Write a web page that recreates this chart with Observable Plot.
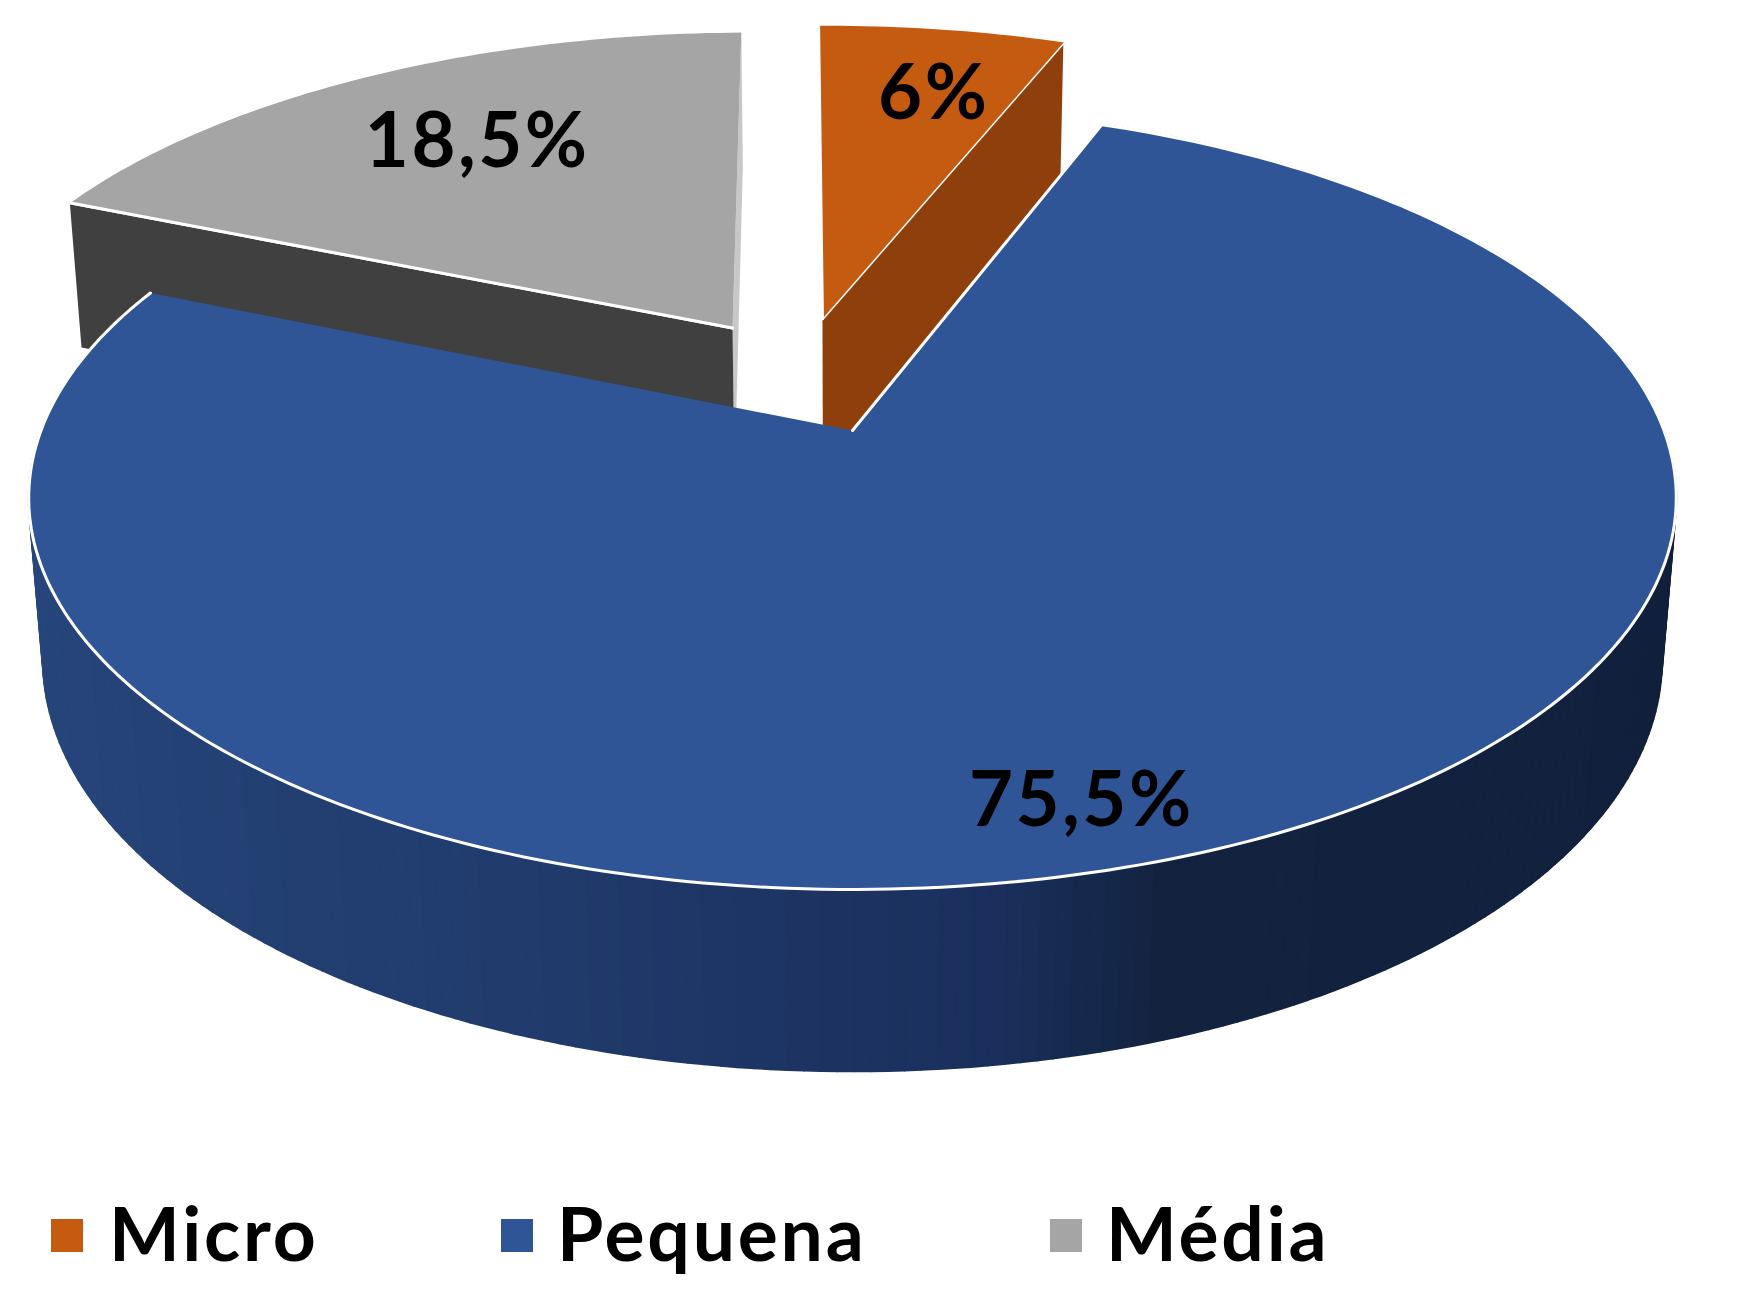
<!DOCTYPE html>
<html><head><meta charset="utf-8">
<script src="https://cdn.jsdelivr.net/npm/d3@7"></script>
<script src="https://cdn.jsdelivr.net/npm/@observablehq/plot@0.6"></script>
<style>
html,body{margin:0;padding:0;background:#fff;}
#wrap{position:relative;width:1750px;height:1292px;overflow:hidden;}
#legend span{position:absolute;font-family:Lato,sans-serif;font-weight:700;font-size:75px;letter-spacing:2.8px;line-height:75px;color:#000;white-space:nowrap;}
#legend i{position:absolute;display:block;}
svg text{font-family:Lato,sans-serif;letter-spacing:2.5px;}
</style></head><body>
<div id="wrap"><div id="chart"></div><div id="legend"></div></div>
<script>
const categories = ["Micro", "Pequena", "Média"];
const shares = [6, 75.5, 18.5];
const labels = ["6%", "75,5%", "18,5%"];
const faceColors = ["#C55A11", "#2F5597", "#A5A5A5"];
const cutColors = ["#8F3F0B", null, "#404040"];
const wallStops = [-1, -0.3, 0.15, 0.32, 1];
const wallColors = ["#27467C", "#203A6B", "#1A2F5C", "#13233F", "#11203C"];
const explodeX = [-0.039, 0, -0.155];
const explodeY = [0.31, 0, 0.283];
const labelAngle = [12, 163.8, -32.4];
const labelRadius = [0.756, 0.866, 0.704];
const legendSwatchX = [51, 501, 1050];
const legendTextX = [109, 557, 1106];

const W = 1750, H = 1190;
const cx = 852, cy = 430, a = 380, b = 811.5, k = 0.172, m = 0.017, c = 161.5, startAngle = -0.7;
const project = (X, Y, Z = 0) => {
  const w = 1 + k * Y + m * Z;
  return {x: cx + b * X / w, y: cy + (-a * Y + c * Z) / w};
};
const rad = d => d * Math.PI / 180;
let acc = 0;
const spans = shares.map(s => { const s0 = startAngle + acc * 3.6; acc += s; return [s0, startAngle + acc * 3.6]; });

const onRim = (i, t, Z = 0) => project(explodeX[i] + Math.sin(t), explodeY[i] + Math.cos(t), Z);
function rim(i) {
  const [a0, a1] = spans[i], out = [], n = Math.ceil(a1 - a0);
  for (let j = 0; j <= n; j++) out.push(onRim(i, rad(a0 + (a1 - a0) * j / n)));
  return out;
}
const face = i => [project(explodeX[i], explodeY[i]), ...rim(i)];
function cut(i, deg) {
  const t = rad(deg);
  return [project(explodeX[i], explodeY[i]), onRim(i, t), onRim(i, t, 1), project(explodeX[i], explodeY[i], 1)];
}
// blue outer wall as narrow strips
const wall = [];
{
  const [a0, a1] = spans[1];
  for (let d = a0, id = 0; d < a1; d += 1, id++) {
    const e = Math.min(d + 1, a1), t0 = rad(d), t1 = rad(e), mid = Math.sin(rad((d + e) / 2));
    for (const p of [onRim(1, t0), onRim(1, t1), onRim(1, t1, 1), onRim(1, t0, 1)])
      wall.push({...p, id, shade: mid});
  }
}
const opt = (fill) => ({x: "x", y: "y", fill, stroke: "white", strokeWidth: 3, strokeLinejoin: "round"});
const labelData = categories.map((cat, i) => {
  const t = rad(labelAngle[i]);
  const p = project(explodeX[i] + labelRadius[i] * Math.sin(t), explodeY[i] + labelRadius[i] * Math.cos(t));
  return {...p, text: labels[i]};
});
const chart = Plot.plot({
  width: W, height: H, margin: 0,
  x: {domain: [0, W], range: [0, W], axis: null},
  y: {domain: [0, H], range: [0, H], axis: null},
  color: {type: "linear", domain: wallStops, range: wallColors, interpolate: "rgb"},
  marks: [
    Plot.line(cut(2, spans[2][1]), {x: "x", y: "y", fill: "#C8C8C8"}),
    Plot.line(cut(2, spans[2][0]), opt(cutColors[2])),
    Plot.line(face(2), opt(faceColors[2])),
    Plot.line(cut(0, spans[0][1]), opt(cutColors[0])),
    Plot.line(face(0), opt(faceColors[0])),
    Plot.line(wall, {x: "x", y: "y", z: "id", fill: "shade", stroke: "shade", strokeWidth: 2}),
    Plot.line(face(1), opt(faceColors[1])),
    Plot.text(labelData, {x: "x", y: "y", dy: 2, text: "text", fontSize: 76, fontWeight: 700, fill: "black"})
  ]
});
document.getElementById("chart").appendChild(chart);
const lg = document.getElementById("legend");
categories.forEach((cat, i) => {
  const sw = document.createElement("i");
  sw.style.cssText = `left:${legendSwatchX[i]}px;top:1219px;width:32px;height:33px;background:${faceColors[i]}`;
  const tx = document.createElement("span");
  tx.textContent = cat;
  tx.style.cssText = `left:${legendTextX[i]}px;top:1195px`;
  lg.append(sw, tx);
});
</script></body></html>
